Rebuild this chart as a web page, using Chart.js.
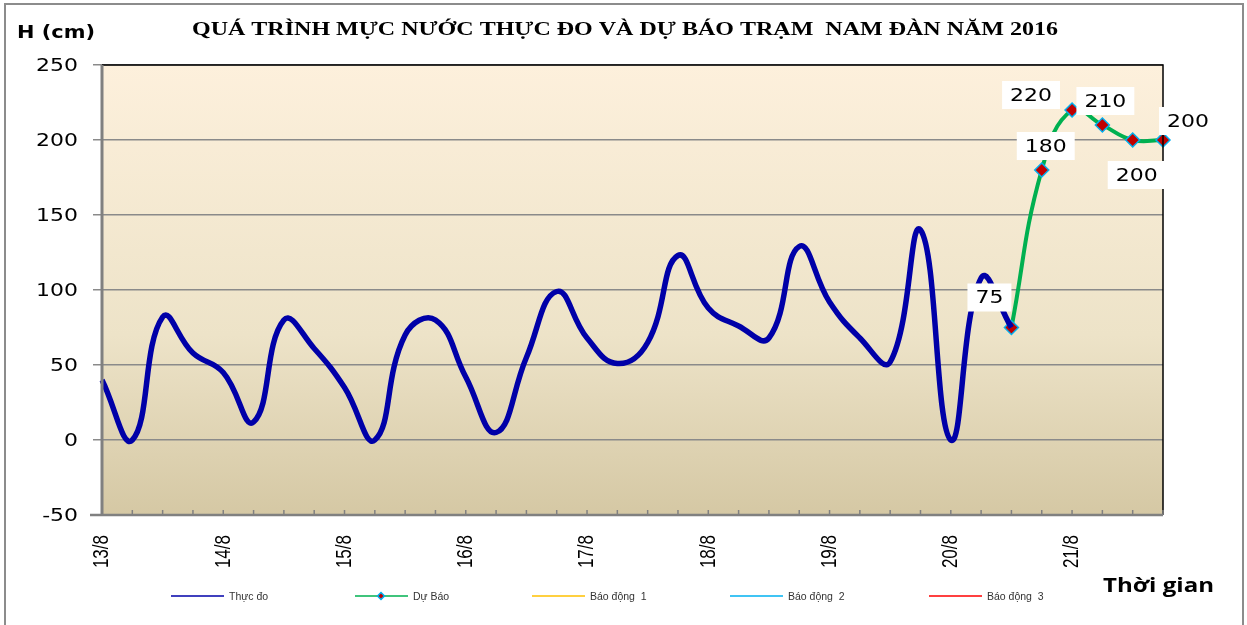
<!DOCTYPE html>
<html>
<head>
<meta charset="utf-8">
<script src="https://cdn.jsdelivr.net/npm/chart.js@4"></script>
<style>
  html, body { margin: 0; padding: 0; background: #fff; }
  #wrap { width: 1247px; height: 625px; position: relative; }
</style>
</head>
<body>
<div id="wrap"><canvas id="mucNuocChart"></canvas></div>
<script>
// nhãn trục x (mỗi 6 giờ một điểm, chỉ ghi ngày)
const nhanTrucX = ['13/8','','','','14/8','','','','15/8','','','','16/8','','','','17/8','','','',
                   '18/8','','','','19/8','','','','20/8','','','','21/8','','',''];
// mực nước thực đo (cm)
const thucDo = [40,0,82,58,45,12,80,61,35,0,70,80,42,5,55,99,68,51,65,123,88,76,68,129,92,68,52,140,0,108,75];
// dự báo, bắt đầu từ điểm thứ 31
const batDauDuBao = 30;
const duBao = [75,180,220,210,200,200];
const baoDong1 = [];
const baoDong2 = [];
const baoDong3 = [];
const yTicks = [-50,0,50,100,150,200,250];

const tieuDe = 'QUÁ TRÌNH MỰC NƯỚC THỰC ĐO VÀ DỰ BÁO TRẠM  NAM ĐÀN NĂM 2016';

const duLieuThucDo = nhanTrucX.map((_, i) => i < thucDo.length ? thucDo[i] : null);
const duLieuDuBao = nhanTrucX.map((_, i) => (i >= batDauDuBao && i - batDauDuBao < duBao.length) ? duBao[i - batDauDuBao] : null);

// vị trí nhãn giá trị so với điểm (dx, dy)
const viTriNhan = [[-22,-30],[4,-24],[-41,-15],[3,-24],[4,35],[25,-19]];

// chữ bị kéo giãn ngang giống ảnh gốc
function veChu(ctx, text, x, y, align, sx) {
  ctx.save();
  ctx.translate(x, y);
  ctx.scale(sx, 1);
  ctx.textAlign = align;
  ctx.fillText(text, 0, 0);
  ctx.restore();
}

const nenVaKhung = {
  id: 'nenVaKhung',
  beforeDraw(chart) {
    const { ctx, chartArea: a } = chart;
    ctx.save();
    ctx.fillStyle = '#fff';
    ctx.fillRect(0, 0, chart.width, chart.height);
    ctx.strokeStyle = '#8c8c8c';
    ctx.lineWidth = 2;
    ctx.strokeRect(5, 4, 1238, 640);
    const g = ctx.createLinearGradient(0, a.top, 0, a.bottom);
    g.addColorStop(0, '#fdf0dc');
    g.addColorStop(0.6, '#ede3c8');
    g.addColorStop(1, '#d5c8a4');
    ctx.fillStyle = g;
    ctx.fillRect(a.left, a.top, a.right - a.left, a.bottom - a.top);
    ctx.restore();
  },
  afterDraw(chart) {
    const { ctx, chartArea: a } = chart;
    ctx.save();
    // khung trên, phải
    ctx.strokeStyle = '#000';
    ctx.lineWidth = 1.5;
    ctx.beginPath();
    ctx.moveTo(a.left, a.top); ctx.lineTo(a.right, a.top); ctx.lineTo(a.right, a.bottom);
    ctx.stroke();
    // trục trái, dưới
    ctx.strokeStyle = '#808080';
    ctx.lineWidth = 3;
    ctx.beginPath();
    ctx.moveTo(a.left, a.top); ctx.lineTo(a.left, a.bottom + 1);
    ctx.stroke();
    ctx.lineWidth = 2.5;
    ctx.beginPath();
    ctx.moveTo(a.left - 12, a.bottom); ctx.lineTo(a.right, a.bottom);
    ctx.stroke();
    // vạch chia trục x hướng vào trong
    const x = chart.scales.x, y = chart.scales.y;
    ctx.lineWidth = 1.5;
    for (let i = 1; i < nhanTrucX.length; i++) {
      const px = x.getPixelForValue(i);
      ctx.beginPath();
      ctx.moveTo(px, a.bottom); ctx.lineTo(px, a.bottom - 5);
      ctx.stroke();
    }
    ctx.fillStyle = '#000';
    ctx.textBaseline = 'middle';
    // nhãn trục y
    ctx.font = '18px "DejaVu Sans"';
    yTicks.forEach(v => veChu(ctx, String(v), 78, y.getPixelForValue(v) + 1, 'right', 1.22));
    // nhãn trục x (xoay dọc)
    ctx.font = '17px "Liberation Sans"';
    nhanTrucX.forEach((t, i) => {
      if (!t) return;
      ctx.save();
      ctx.translate(x.getPixelForValue(i), a.bottom + 20);
      ctx.rotate(-Math.PI / 2);
      ctx.scale(1, 1.35);
      ctx.textAlign = 'right';
      ctx.fillText(t, 0, 0);
      ctx.restore();
    });
    // tiêu đề
    ctx.font = 'bold 19px "Liberation Serif"';
    ctx.textAlign = 'left';
    veChu(ctx, tieuDe, 625, 30, 'center', 866 / ctx.measureText(tieuDe).width);
    ctx.font = 'bold 18px "DejaVu Sans"';
    veChu(ctx, 'H (cm)', 17, 33, 'left', 78 / ctx.measureText('H (cm)').width);
    ctx.font = 'bold 19px "Open Sans"';
    veChu(ctx, 'Thời gian', 1103, 587, 'left', 111 / ctx.measureText('Thời gian').width);
    // nhãn giá trị dự báo
    const meta = chart.getDatasetMeta(1);
    ctx.font = '18px "DejaVu Sans"';
    duBao.forEach((v, k) => {
      const p = meta.data[batDauDuBao + k];
      const [dx, dy] = viTriNhan[k];
      const cx = p.x + dx, cy = p.y + dy;
      const tw = ctx.measureText(String(v)).width * 1.22 + 16;
      ctx.fillStyle = '#fff';
      ctx.fillRect(cx - tw / 2, cy - 14, tw, 28);
      ctx.fillStyle = '#000';
      veChu(ctx, String(v), cx, cy + 1, 'center', 1.22);
    });
    // chú giải
    const xs = [171, 355, 532, 730, 929];
    ctx.font = '10.5px "Liberation Sans"';
    ctx.textAlign = 'left';
    chart.data.datasets.forEach((ds, i) => {
      const x0 = xs[i], y0 = 596;
      ctx.strokeStyle = ds.borderColor;
      ctx.lineWidth = 1.5;
      ctx.beginPath();
      ctx.moveTo(x0, y0); ctx.lineTo(x0 + 53, y0);
      ctx.stroke();
      if (i === 1) {
        ctx.fillStyle = ds.pointBackgroundColor;
        ctx.strokeStyle = ds.pointBorderColor;
        ctx.beginPath();
        ctx.moveTo(x0 + 26, y0 - 3.5); ctx.lineTo(x0 + 29.5, y0);
        ctx.lineTo(x0 + 26, y0 + 3.5); ctx.lineTo(x0 + 22.5, y0);
        ctx.closePath(); ctx.fill(); ctx.stroke();
      }
      ctx.fillStyle = '#333';
      ctx.fillText(ds.label, x0 + 58, y0 + 1);
    });
    ctx.restore();
  }
};

new Chart(document.getElementById('mucNuocChart'), {
  type: 'line',
  data: {
    labels: nhanTrucX,
    datasets: [
      { label: 'Thực đo', data: duLieuThucDo, borderColor: '#0000a8', borderWidth: 5.5,
        pointRadius: 0, tension: 0.45, spanGaps: false },
      { label: 'Dự Báo', data: duLieuDuBao, borderColor: '#00b050', borderWidth: 4,
        pointStyle: 'rectRot', pointRadius: 7, pointBackgroundColor: '#c00000',
        pointBorderColor: '#00b0f0', pointBorderWidth: 1.5, tension: 0.45, clip: false },
      { label: 'Báo động  1', data: baoDong1, borderColor: '#ffc000', borderWidth: 2, pointRadius: 0 },
      { label: 'Báo động  2', data: baoDong2, borderColor: '#00b0f0', borderWidth: 2, pointRadius: 0 },
      { label: 'Báo động  3', data: baoDong3, borderColor: '#ff0000', borderWidth: 2, pointRadius: 0 }
    ]
  },
  options: {
    responsive: true,
    maintainAspectRatio: false,
    animation: false,
    layout: { padding: { left: 0, right: 84, top: 65, bottom: 0 } },
    plugins: { legend: { display: false }, tooltip: { enabled: false } },
    scales: {
      x: {
        offset: false,
        afterFit(s) { s.height = 110; },
        grid: { display: false, drawTicks: false },
        border: { display: false },
        ticks: { display: false, autoSkip: false }
      },
      y: {
        min: -50, max: 250,
        afterFit(s) { s.width = 102; },
        afterBuildTicks(s) { s.ticks = yTicks.map(v => ({ value: v })); },
        border: { display: false },
        grid: { color: '#8a8a8a', lineWidth: 1.5, tickLength: 9 },
        ticks: { display: false }
      }
    }
  },
  plugins: [nenVaKhung]
});
</script>
</body>
</html>
